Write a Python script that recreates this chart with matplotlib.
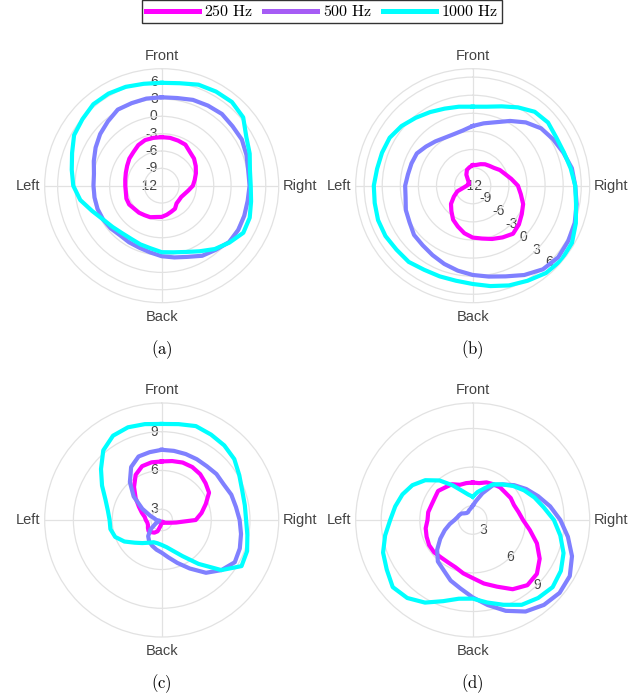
import numpy as np
import matplotlib
matplotlib.use('Agg')
from matplotlib import pyplot as plt
from matplotlib.lines import Line2D
from matplotlib.transforms import offset_copy

plt.rcParams['mathtext.fontset'] = 'cm'

# directions in degrees, clockwise from the front
angles = np.arange(0, 360, 10)

# levels in dB for each panel / frequency
a_250 = [-3.6, -3.6, -3.7, -3.8, -4.4, -4.7, -5.2, -5.7, -6.2, -6.6, -7.3, -7.8,
         -8.1, -8.1, -8.0, -7.4, -7.2, -6.9, -6.6, -6.5, -6.2, -6.1, -5.9, -5.8,
         -5.5, -5.5, -5.7, -5.7, -5.6, -5.4, -5.1, -4.7, -4.4, -3.9, -3.6, -3.6]
a_500 = [3.3, 3.4, 3.8, 4.0, 4.2, 4.0, 4.0, 3.6, 3.2, 3.2, 3.1, 3.2,
         3.3, 3.2, 2.5, 2.0, 1.1, 0.6, 0.2, -0.3, -0.6, -0.7, -0.8, -0.5,
         -0.3, -0.2, -0.2, -0.2, -0.1, 0.5, 1.2, 1.9, 2.5, 3.2, 3.2, 3.3]
a_1000 = [5.8, 6.0, 6.6, 6.8, 6.9, 6.4, 4.9, 4.2, 3.5, 3.4, 3.7, 4.2,
          4.3, 3.3, 2.3, 1.1, 0.2, -0.3, -0.5, -1.0, -1.2, -1.4, -1.3, -0.9,
          -0.3, 0.8, 2.3, 3.3, 3.8, 4.5, 5.5, 5.9, 6.4, 6.4, 6.2, 5.9]

b_250 = [-8.6, -8.5, -8.2, -7.9, -7.7, -7.4, -6.8, -6.3, -5.5, -4.5, -3.9, -3.1,
         -2.6, -2.0, -1.6, -2.1, -2.6, -3.1, -3.4, -4.0, -4.8, -5.5, -6.5, -7.3,
         -8.4, -9.3, -10.6, -11.0, -11.2, -11.3, -11.2, -11.2, -10.8, -9.9, -9.2, -8.9]
b_500 = [-2.1, -1.5, -0.8, 0.4, 1.7, 2.8, 3.4, 4.0, 4.7, 5.0, 5.5, 6.0,
         6.3, 6.5, 6.1, 5.1, 4.0, 3.3, 2.8, 2.3, 1.8, 1.3, 0.9, 0.7,
         0.1, -0.2, -0.7, -0.8, -1.1, -1.2, -1.3, -1.9, -2.4, -2.8, -2.9, -2.7]
b_1000 = [1.1, 1.3, 2.0, 3.0, 4.0, 4.3, 4.0, 4.1, 4.5, 5.0, 5.4, 6.2,
          7.0, 7.2, 6.9, 6.2, 5.6, 4.9, 4.3, 4.0, 4.0, 4.1, 4.5, 4.5,
          4.7, 4.7, 4.5, 4.4, 4.1, 4.0, 3.9, 3.4, 2.7, 2.1, 1.6, 1.3]

c_250 = [6.7, 6.8, 6.9, 6.9, 6.8, 6.6, 6.4, 5.8, 5.3, 4.8, 3.3, 2.8,
         2.6, 2.5, 2.4, 2.4, 2.3, 2.3, 2.3, 2.6, 3.1, 3.3, 3.4, 3.5,
         3.4, 3.3, 3.3, 3.4, 3.5, 3.8, 4.2, 4.8, 5.5, 6.2, 6.6, 6.7]
c_500 = [7.6, 7.6, 7.6, 7.6, 7.6, 7.7, 7.7, 7.9, 8.0, 8.2, 8.4, 8.6,
         8.7, 8.2, 7.5, 6.5, 5.7, 5.1, 4.7, 4.5, 4.3, 4.1, 3.8, 3.3,
         2.7, 2.35, 2.4, 2.6, 2.7, 3.1, 3.9, 5.0, 6.0, 6.9, 7.4, 7.5]
c_1000 = [9.6, 9.7, 9.9, 9.8, 9.7, 9.5, 9.1, 8.8, 8.7, 8.7, 8.9, 9.2,
          9.3, 8.2, 6.6, 5.4, 4.7, 4.3, 4.1, 4.0, 4.0, 4.2, 4.5, 4.9,
          5.5, 6.0, 6.2, 6.2, 6.4, 6.8, 7.5, 8.3, 9.2, 9.7, 9.8, 9.7]

d_250 = [4.8, 4.8, 5.0, 5.1, 5.2, 5.2, 5.3, 5.3, 5.5, 5.8, 6.4, 7.2,
         7.9, 8.4, 8.5, 8.1, 7.4, 6.9, 6.4, 6.1, 5.8, 5.7, 5.7, 5.8,
         5.8, 5.7, 5.6, 5.4, 5.4, 5.3, 5.3, 5.4, 5.2, 5.1, 4.8, 4.8]
d_500 = [3.0, 3.4, 4.1, 5.0, 5.5, 6.1, 6.7, 7.3, 8.0, 8.7, 9.4, 10.1,
         10.6, 10.7, 10.5, 10.1, 9.4, 8.6, 7.9, 7.3, 6.9, 6.4, 6.1, 5.5,
         4.8, 4.2, 3.7, 3.3, 3.1, 3.0, 2.9, 2.7, 2.6, 2.6, 2.7, 2.8]
d_1000 = [3.7, 4.1, 4.5, 5.1, 5.5, 6.0, 6.5, 7.0, 7.5, 8.2, 8.8, 9.4,
          9.8, 10.0, 9.8, 9.5, 8.9, 8.4, 8.0, 8.1, 8.6, 9.3, 9.8, 10.0,
          9.6, 9.3, 8.8, 8.3, 8.0, 7.7, 7.3, 6.7, 5.9, 5.0, 4.3, 3.9]

freqs = ['250 Hz', '500 Hz', '1000 Hz']
line_colors = ['#ff00ff', '#8080ff', '#00ffff']
key_colors = ['#ff00ff', '#a65cf5', '#00ffff']
directions = ['Front', 'Right', 'Back', 'Left']
ticks_ab = [-12, -9, -6, -3, 0, 3, 6]
ticks_cd = [3, 6, 9]

W, H = 644, 700
R = 117  # plot radius in pixels

panels = [
    ('(a)', (161.7, 185.7), [a_250, a_500, a_1000], ticks_ab, (-12, 8.24), 0),
    ('(b)', (472.7, 185.7), [b_250, b_500, b_1000], ticks_ab, (-12, 7.40), 135),
    ('(c)', (161.7, 520.0), [c_250, c_500, c_1000], ticks_cd, (2.17, 11.22), 0),
    ('(d)', (472.7, 520.0), [d_250, d_500, d_1000], ticks_cd, (1.89, 10.98), 135),
]

fig = plt.figure(figsize=(W / 100, H / 100), dpi=100)

grid_col = '#e2e2e2'
text_col = '#444444'
sans = 'Liberation Sans'

for cap, (cx, cy), series, ticks, rlim, lab_ang in panels:
    ax = fig.add_axes([(cx - R) / W, (H - cy - R) / H, 2 * R / W, 2 * R / H],
                      projection='polar')
    ax.set_theta_zero_location('N')
    ax.set_theta_direction(-1)
    ax.set_ylim(*rlim)
    ax.set_rticks(ticks)
    ax.set_yticklabels([])
    ax.set_xticks(np.deg2rad([0, 90, 180, 270]))
    ax.set_xticklabels([])
    ax.tick_params(length=0)
    ax.grid(True, color=grid_col, lw=0.9)
    ax.spines['polar'].set_color(grid_col)
    ax.spines['polar'].set_linewidth(0.9)

    for vals, col in zip(series, line_colors):
        th = np.deg2rad(np.r_[angles, 360])
        rr = np.r_[vals, vals[0]]
        ax.plot(th, rr, color=col, lw=3, zorder=3, solid_joinstyle='round')

    # radial tick labels
    if lab_ang == 0:
        tr = offset_copy(ax.transData, fig=fig, x=-4, y=0, units='dots')
        for t in ticks:
            ax.text(0, t, str(t), transform=tr, ha='right', va='center',
                    fontsize=10, family=sans, color=text_col, zorder=1)
    else:
        for t in ticks:
            ax.text(np.deg2rad(lab_ang), t, str(t), ha='center', va='center',
                    fontsize=10, family=sans, color=text_col, zorder=1)

    # direction labels
    kw = dict(transform=ax.transAxes, fontsize=10.5, family=sans, color=text_col)
    ax.text(0.5, 1 + 12.7 / (2 * R), directions[0], ha='center', va='center', **kw)
    ax.text(1 + 4 / (2 * R), 0.5, directions[1], ha='left', va='center', **kw)
    ax.text(0.5, -14 / (2 * R), directions[2], ha='center', va='center', **kw)
    ax.text(-4 / (2 * R), 0.5, directions[3], ha='right', va='center', **kw)

    fig.text(cx / W, 1 - (cy + 163.5) / H, r'$\mathrm{%s}$' % cap,
             ha='center', va='center', fontsize=12)

handles = [Line2D([], [], color=c, lw=3.6) for c in key_colors]
labels = [r'$\mathrm{%s}$' % f.replace(' ', r'\ ') for f in freqs]
leg = fig.legend(handles, labels, loc='upper center', bbox_to_anchor=(0.5, 0.9995),
                 ncol=3, fontsize=11.5, frameon=True, fancybox=False,
                 handlelength=3.3, handletextpad=0.35, columnspacing=0.7,
                 borderpad=0.25, borderaxespad=0)
leg.get_frame().set_edgecolor('black')
leg.get_frame().set_linewidth(1.0)

fig.savefig('out.png', dpi=100)
